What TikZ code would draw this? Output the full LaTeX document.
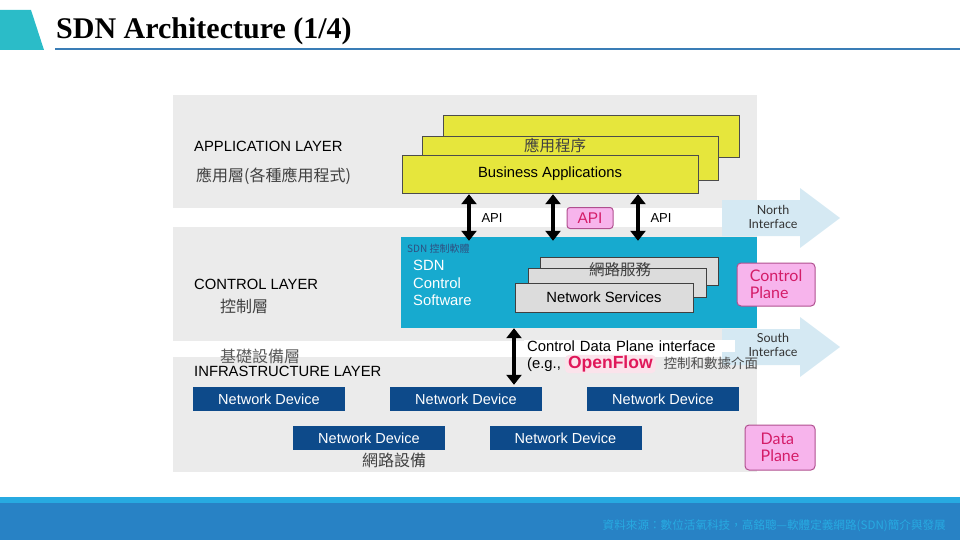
\documentclass[tikz,border=0pt]{standalone}
\usepackage{fontspec}
\setmainfont{Liberation Sans}
\newfontfamily\titlefont{Liberation Serif}
\newfontfamily\cjk{Noto Sans CJK TC}
\newfontfamily\gill{Lato}
\usetikzlibrary{arrows.meta, positioning, calc}

\definecolor{titleteal}{HTML}{2BBCC8}
\definecolor{titleline}{HTML}{3A7DB6}
\definecolor{footlight}{HTML}{27AAE1}
\definecolor{footdark}{HTML}{2882C5}
\definecolor{layergray}{HTML}{EBEBEB}
\definecolor{appyellow}{HTML}{E6E63C}
\definecolor{ctrlcyan}{HTML}{17AACF}
\definecolor{svcgray}{HTML}{DCDCDC}
\definecolor{devblue}{HTML}{0D4A8A}
\definecolor{planepink}{HTML}{F7B4EC}
\definecolor{planeedge}{HTML}{B0508F}
\definecolor{planetext}{HTML}{D41C68}
\definecolor{ifaceblue}{HTML}{D5E9F3}
\definecolor{openflow}{HTML}{E0185A}
\definecolor{smallnavy}{HTML}{2F4F80}

\tikzset{
  layer/.style={fill=layergray, draw=none},
  appbox/.style={draw=black!70, fill=appyellow, minimum width=296pt, inner sep=0pt},
  svcbox/.style={draw=black!75, fill=svcgray, minimum width=178pt, minimum height=29pt, inner sep=0pt},
  devbox/.style={fill=devblue, text=white, minimum width=152pt, minimum height=24pt, inner sep=0pt,
    font=\fontsize{14.5}{16}\selectfont},
  planebox/.style={draw=planeedge, line width=1pt, fill=planepink, rounded corners=4pt,
    text=planetext, align=left, font=\gill\fontsize{16}{17}\selectfont, inner sep=0pt},
  layertext/.style={anchor=west, inner sep=0pt, font=\fontsize{14.8}{16}\selectfont},
  zhtext/.style={anchor=west, inner sep=0pt, text=black!75, font=\cjk\fontsize{16}{18}\selectfont},
  apitext/.style={inner sep=0pt, font=\fontsize{13}{14}\selectfont},
  ifacetext/.style={align=center, inner sep=0pt, text=black!80, font=\gill\fontsize{12.5}{14}\selectfont},
  biarrow/.style={{Triangle[width=15pt,length=10pt]}-{Triangle[width=15pt,length=10pt]}, line width=4pt}
}

\begin{document}
\begin{tikzpicture}[x=1pt, y=-1pt]
  \useasboundingbox (0,0) rectangle (960,540);

  % Title bar
  \fill[titleteal] (0,10) -- (31,10) -- (44,50) -- (0,50) -- cycle;
  \node[anchor=west, inner sep=0pt, font=\titlefont\bfseries\fontsize{30}{32}\selectfont] (title) at (56,31) {SDN Architecture (1/4)};
  \draw[titleline, line width=2.5pt] (55,49) -- (960,49);

  % Footer
  \fill[footdark] (0,497) rectangle (960,540);
  \fill[footlight] (0,497) rectangle (960,503);
  \node[anchor=east, inner sep=0pt, text=footlight, font=\cjk\fontsize{11.6}{12}\selectfont] (source) at (946,526)
    {資料來源：數位活氧科技，高銘聰—軟體定義網路(SDN)簡介與發展};

  % Layer backgrounds
  \fill[layer] (173,95) rectangle (757,208);
  \fill[layer] (173,227) rectangle (757,341);
  \fill[layer] (173,357) rectangle (757,472);

  % North / South interface arrows
  \fill[ifaceblue] (722,200) -- (800,200) -- (800,188) -- (840,218) -- (800,248) -- (800,236) -- (722,236) -- cycle;
  \fill[ifaceblue] (722,329) -- (800,329) -- (800,317) -- (840,347) -- (800,377) -- (800,365) -- (722,365) -- cycle;
  \node[ifacetext] (north) at (773,217) {North\\Interface};
  \node[ifacetext] (south) at (773,345) {South\\Interface};

  % Application layer
  \node[layertext] (applabel) at (194,146) {APPLICATION LAYER};
  \node[zhtext] (appzh) at (196,176) {應用層(各種應用程式)};
  \node[appbox, minimum height=42pt] (appback) at (591,136) {};
  \node[appbox, minimum height=44pt] (appmid) at (570.5,158) {};
  \node[appbox, minimum height=38pt, font=\fontsize{14.8}{16}\selectfont] (appfront) at (550,174) {Business Applications};
  \node[inner sep=0pt, text=black!75, font=\cjk\fontsize{15.5}{17}\selectfont] (appprog) at (555,145) {應用程序};

  % Control layer
  \node[layertext] (ctrllabel) at (194,284) {CONTROL LAYER};
  \node[zhtext] (ctrlzh) at (220,306) {控制層};
  \node[fill=ctrlcyan, minimum width=356pt, minimum height=91pt, inner sep=0pt] (ctrl) at (579,282.5) {};
  \node[anchor=west, inner sep=0pt, text=smallnavy, font=\cjk\fontsize{10}{11}\selectfont] (ctrlzhsmall) at (407,249) {SDN 控制軟體};
  \node[anchor=north west, inner sep=0pt, text=white, align=left, font=\fontsize{14.8}{17.5}\selectfont] (sdnsw) at (413,260) {SDN\\Control\\Software};
  \node[svcbox, minimum height=28pt] (svcback) at (629,271) {};
  \node[svcbox] (svcmid) at (617,282.5) {};
  \node[svcbox, font=\fontsize{14.8}{16}\selectfont] (svcfront) at (604,297.5) {Network Services};
  \node[inner sep=0pt, text=black!75, font=\cjk\fontsize{15.5}{17}\selectfont] (svczh) at (620,270) {網路服務};

  % API arrows between application and control layer
  \foreach \dx in {-81, 3, 88} {
    \draw[biarrow] ($(appfront.south)+(\dx,1)$) -- ($(appfront.south |- ctrl.north)+(\dx,4)$);
  }
  \node[apitext] (api1) at (492,218) {API};
  \node[apitext] (api3) at (661,218) {API};
  \node[draw=planeedge, line width=1pt, fill=planepink, rounded corners=3pt, minimum width=46pt, minimum height=21pt,
    inner sep=0pt, text=planetext, font=\fontsize{15.5}{16}\selectfont] (api2) at (590,218) {API};

  % Infrastructure layer
  \node[zhtext, text=black!65] (infrazh) at (220,356) {基礎設備層};
  \node[layertext] (infralabel) at (194,371) {INFRASTRUCTURE LAYER};
  \foreach \name/\x/\y in {dev1/269/399, dev2/466/399, dev3/663/399, dev4/369/438, dev5/565.5/438} {
    \node[devbox] (\name) at (\x,\y) {Network Device};
  }
  \node[inner sep=0pt, text=black!75, font=\cjk\fontsize{16}{17}\selectfont] (devzh) at (394,460) {網路設備};

  % Control data plane interface
  \draw[biarrow] ($(dev2.north |- ctrl.south)+(48,0)$) -- ($(dev2.north)+(48,-2)$);
  \node[anchor=west, fill=white, inner xsep=3pt, inner ysep=1pt, text width=205pt, font=\fontsize{14.8}{16}\selectfont] (cdpi) at (524,346)
    {Control Data Plane interface};
  \node[anchor=west, inner sep=0pt, font=\fontsize{14.8}{16}\selectfont] (eg) at (527,364)
    {(e.g., \tikz[baseline=(of.base)]\node[fill=openflow!12, rounded corners=4pt, inner xsep=3pt, inner ysep=1pt,
      text=openflow, font=\fontsize{17.5}{18}\selectfont\bfseries] (of) {OpenFlow};%
     \hspace{8pt}{\cjk\fontsize{13.5}{14}\selectfont\color{black!70}控制和數據介面}};

  % Plane labels
  \node[planebox, minimum width=78pt, minimum height=43pt] (ctrlplane) at (776,284.5) {Control\\Plane};
  \node[planebox, minimum width=70pt, minimum height=45pt] (dataplane) at (780,447.5) {Data\\Plane};
\end{tikzpicture}
\end{document}
